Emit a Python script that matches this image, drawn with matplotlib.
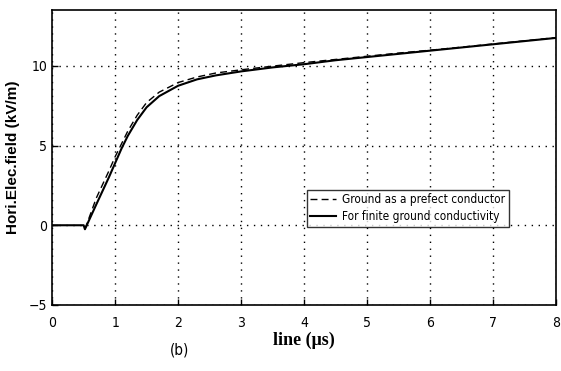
import matplotlib
matplotlib.use('Agg')
from matplotlib import pyplot as plt
from matplotlib import font_manager

# Campo eletrico horizontal (kV/m)
t_finite = [0, 0.5, 0.52, 0.7, 0.9, 1.0, 1.1, 1.2, 1.35, 1.5, 1.7, 2.0, 2.3, 2.6, 3.0, 3.5, 4.0, 4.5, 5.0, 5.5, 6.0, 6.5, 7.0, 7.5, 8.0]
e_finite = [0, 0, -0.25, 1.3, 3.0, 3.9, 4.8, 5.6, 6.6, 7.4, 8.1, 8.75, 9.15, 9.4, 9.65, 9.9, 10.1, 10.35, 10.55, 10.75, 10.95, 11.15, 11.35, 11.55, 11.75]

t_perfect = [0.52, 0.7, 0.9, 1.0, 1.1, 1.2, 1.35, 1.5, 1.7, 2.0, 2.3, 2.6, 3.0, 3.5, 4.0, 4.5, 5.0, 5.5, 6.0, 6.5, 7.0, 7.5, 8.0]
e_perfect = [-0.25, 1.7, 3.4, 4.3, 5.1, 5.9, 6.9, 7.7, 8.35, 8.95, 9.3, 9.55, 9.75, 9.98, 10.2, 10.4, 10.6, 10.8, 10.98, 11.17, 11.37, 11.57, 11.77]

xticks = [0, 1, 2, 3, 4, 5, 6, 7, 8]
yticks = [-5, 0, 5, 10]

fig = plt.figure(figsize=(5.61, 3.71), dpi=100)
ax = fig.add_axes([0.093, 0.178, 0.898, 0.795])

narrow = font_manager.FontProperties(family='DejaVu Sans', stretch='condensed', size=10)

ax.plot(t_perfect, e_perfect, 'k--', lw=1.0, dashes=(5, 3), label='Ground as a prefect conductor')
ax.plot(t_finite, e_finite, 'k-', lw=1.5, label='For finite ground conductivity')

ax.set_xlim(0, 8)
ax.set_ylim(-5, 13.5)
ax.set_xticks(xticks)
ax.set_yticks(yticks)
ax.set_xticklabels([str(v) for v in xticks], fontproperties=narrow)
ax.set_yticklabels([str(v).replace('-', '\u2212') for v in yticks], fontproperties=narrow)
ax.tick_params(direction='in', length=4, width=1, colors='black')
ax.tick_params(axis='x', pad=8)
ax.grid(True, color='black', linestyle=(0, (1, 4)), linewidth=1)

for s in ax.spines.values():
    s.set_linewidth(1.2)

ax.set_xlabel('line (\u03bcs)', family=['Liberation Serif', 'DejaVu Serif'], fontweight='bold', fontsize=13, labelpad=1)
ax.set_ylabel('Hori.Elec.field (kV/m)', family=['Liberation Sans', 'DejaVu Sans'], fontweight='bold', fontsize=11, labelpad=6)

fig.text(0.32, 0.045, '(b)', fontproperties=font_manager.FontProperties(family='DejaVu Sans', stretch='condensed', size=11), ha='center')

leg_font = font_manager.FontProperties(family='DejaVu Sans', stretch='condensed', size=8.5)
leg = ax.legend(loc='upper left', bbox_to_anchor=(0.505, 0.39), prop=leg_font, borderaxespad=0,
                frameon=True, fancybox=False, edgecolor='black', handlelength=2.2,
                borderpad=0.3, labelspacing=0.3, handletextpad=0.5)
leg.get_frame().set_linewidth(1.0)

fig.savefig('out.png', dpi=100)
